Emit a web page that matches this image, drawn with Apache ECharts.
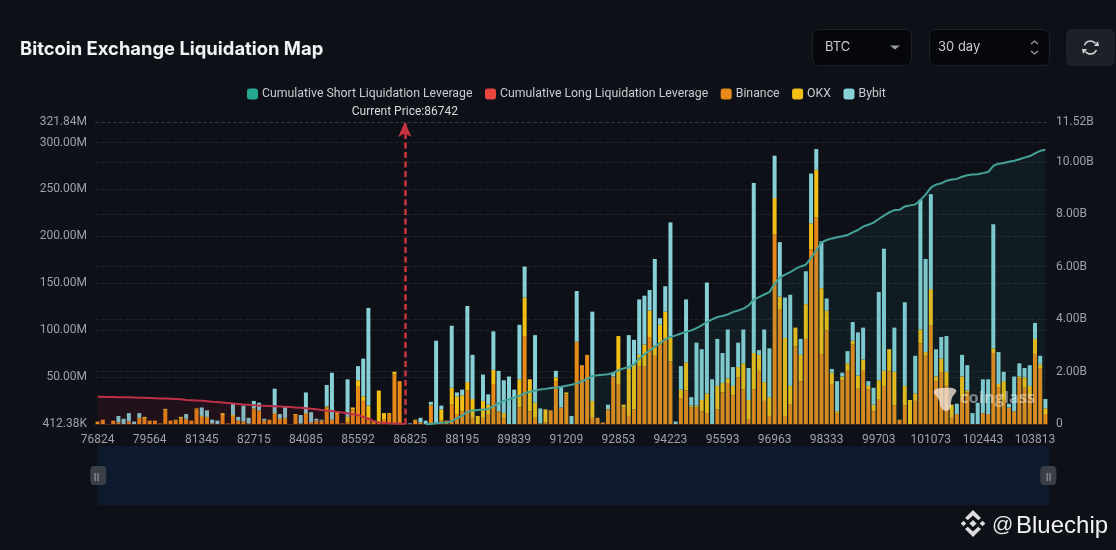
<!DOCTYPE html>
<html>
<head>
<meta charset="utf-8">
<style>html,body{margin:0;padding:0;background:#0d1017;}#c{width:1116px;height:550px;filter:blur(0.35px);}</style>
<script src="https://cdn.jsdelivr.net/npm/echarts@6/dist/echarts.min.js"></script>
</head>
<body>
<div id="c"></div>
<script>
const tickLabels = [76824,79564,81345,82715,84085,85592,86825,88195,89839,91209,92853,94223,95593,96963,98333,99703,101073,102443,103813];
const leftTicks = [412380,50000000,100000000,150000000,200000000,250000000,300000000,321840000];
const rightTicks = [0,2000000000,4000000000,6000000000,8000000000,10000000000,11520000000];
const currentPrice = 86742;

// values in millions of USD, one per price level
const binance = [3,5,0,4,2,0,3,0,6,6,4,4,1,15,4,4,6,5,4,16,8,7,1,0,10,1,9,4,3,1,16,14,4,5,11,6,6,0,10,1,11,2,4,4,18,5,11,1,2,16,40,25,7,3,2,5,11,53,46,0,
0,4,2,0,20,0,4,4,21,11,14,36,7,0,7,11,43,14,7,0,0,18,94,14,7,1,2,15,46,18,32,0,88,63,74,7,7,2,16,51,43,18,9,16,62,62,93,73,85,92,67,0,28,36,18,18,14,12,0,16,
34,44,31,50,37,5,37,57,25,9,202,122,9,21,83,46,91,186,220,75,100,43,12,47,57,85,38,57,37,14,27,41,57,20,5,20,0,25,86,73,105,46,55,41,7,11,30,34,0,0,12,11,76,39,25,18,14,49,39,30,75,60,11];
const okx = [0,0,0,0,0,0,0,0,1,2,0,0,0,1.5,0,1,2,1,0,1,1,1,0,0,2,0,1,0,0,0,1,1,0,0,1,0,1,0,1,0,1,0,0,0,1,0,3,0,6,2,7,5,13,0,34,7,1,3,0,0,
0,1,0,0,1,0,12,0,18,19,17,9,20,9,18,10,15,0,5,0,0,30,41,34,16,0,14,0,4,0,2,0,0,0,0,18,0,0,0,0,51,3,50,48,12,23,28,11,21,28,25,0,9,30,2,2,12,21,0,25,
10,5,10,11,28,21,39,17,20,20,39,14,83,20,20,28,37,28,51,70,21,12,2,4,8,4,14,12,4,7,20,16,23,36,0,21,26,8,15,4,39,5,15,15,14,0,21,2,0,0,0,0,5,4,21,0,0,2,11,11,16,4,6];
const bybit = [0,0,0,0,7,6,9,3,5,0,0,0,0,0,0,0,0,5,0,0,9,7,4,4,0,0,12,4,17,6,8,8,2,0,26,5,12,0,0,9,22,11,2,1,23,50,0,0,40,0,15,40,104,1,0,0,0,0,0,0,
1,0,5,4,3,89,4,0,66,4,6,81,47,0,28,11,41,43,35,51,37,58,33,0,72,16,0,0,7,22,0,9,54,0,0,95,0,0,5,4,0,0,36,26,59,52,22,92,7,27,123,3,25,67,9,67,54,118,48,50,
32,52,20,26,36,34,181,5,56,52,45,58,43,97,0,17,35,53,22,50,13,4,32,4,13,20,46,34,5,18,94,130,0,47,0,89,0,40,138,99,101,29,23,38,0,11,23,27,12,23,36,37,132,34,10,4,37,14,10,22,17,9,10];

// values in billions of USD
const longCumulative = [1.04,1.04,1.03,1.03,1.02,1.02,1.02,1.01,1.00,1.00,.99,.98,.97,.97,.96,.95,.94,.92,.91,.90,.89,.87,.85,.84,.82,.80,.78,.76,.74,.73,.72,.71,.70,.69,.68,.67,.66,.65,.63,.62,.60,.58,.56,.53,.51,.50,.46,.44,.41,.37,.34,.27,.20,.12,.06,.05,.03,.02,.01,0];
const shortStartIndex = 63;
const shortCumulative = [0,0,.03,.05,.06,.11,.22,.32,.47,.51,.53,.55,.57,.68,.79,.89,.94,1.01,1.08,1.17,1.23,1.27,1.32,1.34,1.37,1.39,1.42,1.46,1.50,1.55,1.63,1.72,1.83,1.86,1.88,1.90,1.95,2.05,2.12,2.18,2.27,2.50,2.66,2.81,2.94,3.09,3.22,3.32,3.38,3.45,3.51,3.57,3.66,3.76,3.89,3.99,4.08,
4.12,4.18,4.27,4.33,4.40,4.52,4.74,4.84,4.94,5.03,5.35,5.58,5.70,5.79,5.92,6.01,6.08,6.34,6.62,6.93,7.02,7.08,7.12,7.16,7.21,7.31,7.40,7.53,7.60,7.68,7.82,7.95,8.07,8.16,8.17,8.30,8.34,8.37,8.54,8.75,9.02,9.13,9.18,9.28,9.33,9.35,9.43,9.49,9.52,9.53,9.57,9.61,9.85,9.93,9.96,10.0,10.04,10.10,10.16,10.22,10.32,10.42,10.46];

const categories = binance.map((_, i) => {
  const k = Math.floor(i / 10), a = tickLabels[k], b = tickLabels[k + 1];
  return String(b ? Math.round(a + (b - a) * (i % 10) / 10) : a + 137 * (i % 10));
});
let priceIndex = 0;
categories.forEach((c, i) => { if (+c <= currentPrice) priceIndex = i; });

const M = a => a.map(v => v * 1e6);
const B = a => a.map(v => v * 1e9);
const font = 'Roboto, sans-serif';
const axisColor = '#9ea2a8';

const chart = echarts.init(document.getElementById('c'), null, {renderer: 'canvas'});

function barSeries(name, data, color, extra) {
  return Object.assign({
    name, type: 'bar', stack: 'liq', yAxisIndex: 0, data: M(data), barWidth: 4,
    itemStyle: {color}, emphasis: {disabled: true}, z: 2
  }, extra || {});
}
function lineSeries(name, data, legendColor, lineColor, areaColor) {
  return {
    name, type: 'line', yAxisIndex: 1, data, showSymbol: false, smooth: false, z: 3,
    itemStyle: {color: legendColor},
    lineStyle: {color: lineColor, width: 2},
    areaStyle: {color: areaColor}, emphasis: {disabled: true}
  };
}

const grip = x => [
  {type: 'rect', z: 100, shape: {x: x - 2, y: 473, width: 1.4, height: 8}, style: {fill: '#84888e'}},
  {type: 'rect', z: 100, shape: {x: x + 0.8, y: 473, width: 1.4, height: 8}, style: {fill: '#84888e'}}
];
const diamond = (cx, cy, r) => ({type: 'polygon', shape: {points: [[cx, cy - r], [cx + r, cy], [cx, cy + r], [cx - r, cy]]}, style: {fill: '#dcdcdc'}});

chart.setOption({
  backgroundColor: '#0d1017',
  animation: false,
  textStyle: {fontFamily: font},
  title: {
    text: 'Bitcoin Exchange Liquidation Map', left: 15, top: 35,
    textStyle: {color: '#f2f3f4', fontSize: 18.4, fontWeight: 700, fontFamily: 'Inter, sans-serif'}
  },
  legend: {
    top: 83, left: 242, itemWidth: 11, itemHeight: 11, itemGap: 12.5, icon: 'roundRect',
    textStyle: {color: '#c9ccd0', fontSize: 12.3, fontFamily: font, padding: [0, 0, 0, -1]},
    data: ['Cumulative Short Liquidation Leverage', 'Cumulative Long Liquidation Leverage', 'Binance', 'OKX', 'Bybit']
  },
  grid: {left: 95, right: 68, top: 122, bottom: 126},
  xAxis: {
    type: 'category', data: categories, boundaryGap: true,
    axisLine: {show: true, lineStyle: {color: '#3a2c16'}},
    axisTick: {show: false},
    axisLabel: {color: axisColor, fontSize: 12, fontFamily: font, interval: 9, margin: 10, hideOverlap: false}
  },
  yAxis: [
    {
      type: 'value', min: leftTicks[0], max: leftTicks[leftTicks.length - 1],
      axisLine: {show: false}, axisTick: {show: false, customValues: leftTicks},
      splitLine: {show: true, lineStyle: {color: 'rgba(255,255,255,0.085)', type: 'dashed'}},
      axisLabel: {color: axisColor, fontSize: 12, fontFamily: font, margin: 8, customValues: leftTicks,
        formatter: v => v < 1e6 ? (v / 1e3).toFixed(2) + 'K' : (v / 1e6).toFixed(2) + 'M'}
    },
    {
      type: 'value', min: rightTicks[0], max: rightTicks[rightTicks.length - 1], position: 'right',
      axisLine: {show: false}, axisTick: {show: false, customValues: rightTicks},
      splitLine: {show: true, lineStyle: {color: 'rgba(255,255,255,0.085)', type: 'dashed'}},
      axisLabel: {color: axisColor, fontSize: 12, fontFamily: font, margin: 8, customValues: rightTicks,
        formatter: v => v === 0 ? '0' : (v / 1e9).toFixed(2) + 'B'}
    }
  ],
  dataZoom: [{
    type: 'slider', xAxisIndex: 0, left: 96, right: 68, top: 446, height: 59,
    start: 0, end: 100, zoomLock: true, showDetail: false, showDataShadow: false, brushSelect: false,
    backgroundColor: 'rgba(0,0,0,0)', borderColor: 'rgba(0,0,0,0)', fillerColor: '#0d1a2d',
    handleIcon: 'path://M3 0H12A3 3 0 0 1 15 3V15A3 3 0 0 1 12 18H3A3 3 0 0 1 0 15V3A3 3 0 0 1 3 0Z',
    handleSize: 18, handleStyle: {color: '#3b3f46', borderColor: '#3b3f46'},
    moveHandleSize: 0
  }],
  series: [
    lineSeries('Cumulative Short Liquidation Leverage', new Array(shortStartIndex).fill(null).concat(B(shortCumulative)), '#26a88e', '#44a298', 'rgba(45,135,120,0.15)'),
    lineSeries('Cumulative Long Liquidation Leverage', B(longCumulative), '#e8453f', '#bd3048', 'rgba(150,30,50,0.2)'),
    barSeries('Binance', binance, '#e88a17', {
      markLine: {
        silent: true, symbol: ['none', 'arrow'], symbolSize: [10, 15], precision: 0,
        lineStyle: {color: '#c93442', type: [6, 3.5], width: 2.5},
        label: {show: true, position: 'end', formatter: 'Current Price:' + currentPrice, color: '#d8dadc', fontSize: 12, fontFamily: font, distance: 4},
        data: [{xAxis: priceIndex}]
      }
    }),
    barSeries('OKX', okx, '#f2bf14'),
    barSeries('Bybit', bybit, '#86d0d6')
  ],
  graphic: [
    // selector controls
    {type: 'rect', shape: {x: 812.5, y: 29.5, width: 99, height: 36, r: 6}, style: {fill: '#05070b', stroke: '#1d2127', lineWidth: 1}},
    {type: 'text', x: 825, y: 41, style: {text: 'BTC', fill: '#c9cbce', font: '13px Inter, sans-serif'}},
    {type: 'polygon', shape: {points: [[890, 45.5], [900, 45.5], [895, 49.5]]}, style: {fill: '#9a9da2'}},
    {type: 'rect', shape: {x: 929.5, y: 29.5, width: 120, height: 36, r: 6}, style: {fill: '#05070b', stroke: '#1d2127', lineWidth: 1}},
    {type: 'text', x: 938, y: 41, style: {text: '30 day', fill: '#c9cbce', font: '13px Inter, sans-serif'}},
    {type: 'polyline', shape: {points: [[1031, 44], [1034.5, 41], [1038, 44]]}, style: {stroke: '#9a9da2', fill: 'none', lineWidth: 1.3}},
    {type: 'polyline', shape: {points: [[1031, 51], [1034.5, 54], [1038, 51]]}, style: {stroke: '#9a9da2', fill: 'none', lineWidth: 1.3}},
    {type: 'rect', shape: {x: 1066, y: 29, width: 49, height: 37, r: 6}, style: {fill: '#1c2027'}},
    {type: 'arc', shape: {cx: 1090.5, cy: 47.5, r: 6.5, startAngle: 3.5, endAngle: 5.6}, style: {stroke: '#d0d2d5', fill: 'none', lineWidth: 1.6}},
    {type: 'arc', shape: {cx: 1090.5, cy: 47.5, r: 6.5, startAngle: 0.4, endAngle: 2.5}, style: {stroke: '#d0d2d5', fill: 'none', lineWidth: 1.6}},
    {type: 'polygon', shape: {points: [[1094, 46], [1099, 46], [1098, 41]]}, style: {fill: '#d0d2d5'}},
    {type: 'polygon', shape: {points: [[1082, 49], [1087, 49], [1083, 54]]}, style: {fill: '#d0d2d5'}},
    // slider grips
    ...grip(96.5), ...grip(1048.5),
    // coinglass watermark
    {type: 'polygon', z: 50, shape: {smooth: 0.5, points: [[934, 391], [944, 388], [956, 390], [952, 398], [949, 410], [942, 409], [939, 400]]}, style: {fill: 'rgba(245,230,215,0.78)'}},
    {type: 'text', z: 50, x: 960, y: 390, style: {text: 'coinglass', fill: 'rgba(255,255,255,0.45)', font: 'bold 16.5px "Open Sans", sans-serif'}},
    // author mark
    {type: 'group', z: 60, children: [
      diamond(973, 523.5, 3.6), diamond(963.5, 523.5, 2.8), diamond(982.5, 523.5, 2.8),
      {type: 'polygon', shape: {points: [[973, 510], [981, 518], [978.2, 520.3], [973, 515.5], [967.8, 520.3], [965, 518]]}, style: {fill: '#dcdcdc'}},
      {type: 'polygon', shape: {points: [[973, 537], [981, 529], [978.2, 526.7], [973, 531.5], [967.8, 526.7], [965, 529]]}, style: {fill: '#dcdcdc'}}
    ]},
    {type: 'text', z: 60, x: 992, y: 515, style: {text: '@', fill: '#e8e8e8', font: '21px "Liberation Sans", sans-serif'}},
    {type: 'text', z: 60, x: 1016, y: 514, style: {text: 'Bluechip', fill: '#f4f4f4', font: '24px "Liberation Sans", sans-serif'}}
  ]
});
</script>
</body>
</html>
